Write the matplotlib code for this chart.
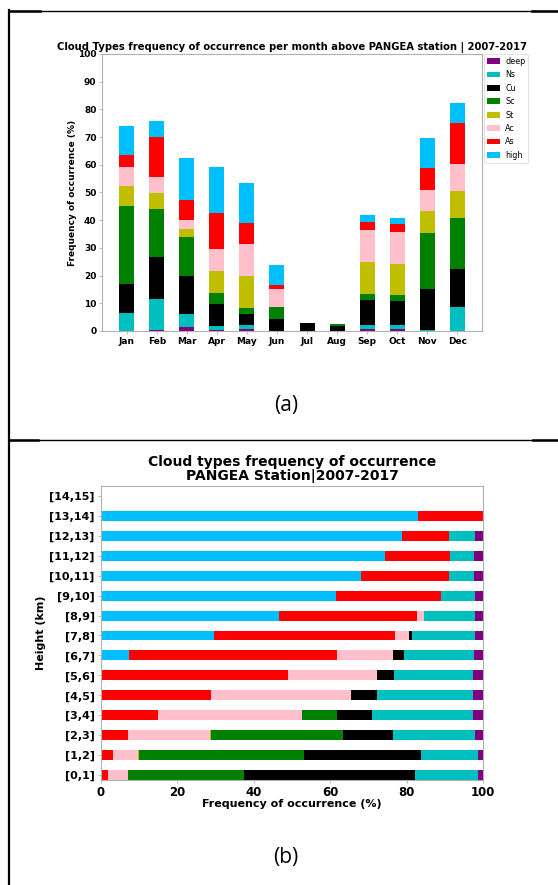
import matplotlib
matplotlib.use("Agg")
import matplotlib.pyplot as plt
from matplotlib.lines import Line2D
import numpy as np

# ---------------- data: panel (a) ----------------
months = ["Jan", "Feb", "Mar", "Apr", "May", "Jun", "Jul", "Aug", "Sep", "Oct", "Nov", "Dec"]
types_a = ["deep", "Ns", "Cu", "Sc", "St", "Ac", "As", "high"]
deep_m = [0.0, 0.3, 1.4, 0.2, 0.9, 0.0, 0.0, 0.0, 0.6, 0.6, 0.0, 0.0]
ns_m   = [6.4, 11.4, 4.7, 1.7, 1.1, 0.0, 0.0, 0.0, 1.6, 1.6, 0.3, 8.5]
cu_m   = [10.6, 15.1, 13.9, 7.7, 4.1, 4.2, 2.9, 1.8, 9.0, 8.8, 15.0, 13.8]
sc_m   = [28.2, 17.4, 13.9, 4.0, 2.1, 4.3, 0.0, 0.7, 2.2, 2.0, 20.2, 18.5]
st_m   = [7.1, 5.7, 3.0, 8.1, 11.7, 0.1, 0.0, 0.0, 11.5, 11.3, 7.7, 9.9]
ac_m   = [6.9, 5.8, 3.2, 7.8, 11.6, 6.4, 0.0, 0.0, 11.4, 11.3, 7.6, 9.7]
as_m   = [4.2, 14.2, 7.1, 13.2, 7.5, 1.6, 0.0, 0.0, 3.0, 2.9, 8.0, 14.7]
high_m = [10.7, 5.9, 15.1, 16.6, 14.4, 7.4, 0.0, 0.0, 2.5, 2.3, 10.8, 7.2]

# ---------------- data: panel (b) ----------------
heights = ["[0,1]", "[1,2]", "[2,3]", "[3,4]", "[4,5]", "[5,6]", "[6,7]", "[7,8]",
           "[8,9]", "[9,10]", "[10,11]", "[11,12]", "[12,13]", "[13,14]", "[14,15]"]
high_h = [0.0, 0.0, 0.0, 0.0, 0.0, 0.0, 7.2, 29.7, 46.6, 61.4, 68.1, 74.4, 78.9, 83.1, 0.0]
as_h   = [1.9, 3.1, 7.0, 15.0, 28.9, 48.9, 54.5, 47.2, 36.2, 27.5, 23.1, 17.0, 12.1, 16.9, 0.0]
ac_h   = [5.2, 6.7, 21.6, 37.6, 36.5, 23.4, 14.8, 3.6, 1.8, 0.0, 0.0, 0.0, 0.0, 0.0, 0.0]
st_h   = [0.0, 0.2, 0.3, 0.0, 0.0, 0.0, 0.0, 0.0, 0.0, 0.0, 0.0, 0.0, 0.0, 0.0, 0.0]
sc_h   = [30.3, 43.2, 34.5, 9.3, 0.0, 0.0, 0.0, 0.0, 0.0, 0.0, 0.0, 0.0, 0.0, 0.0, 0.0]
cu_h   = [44.9, 30.7, 13.1, 9.0, 6.8, 4.4, 2.8, 0.9, 0.0, 0.0, 0.0, 0.0, 0.0, 0.0, 0.0]
ns_h   = [16.3, 14.8, 21.5, 26.6, 25.2, 20.7, 18.3, 16.4, 13.3, 9.1, 6.5, 6.2, 6.9, 0.0, 0.0]
deep_h = [1.4, 1.3, 2.0, 2.5, 2.6, 2.6, 2.4, 2.2, 2.1, 2.0, 2.3, 2.4, 2.1, 0.0, 0.0]

colors = {"deep": "#800080", "Ns": "#00bfbf", "Cu": "#000000", "Sc": "#008000",
          "St": "#bfbf00", "Ac": "#ffc0cb", "As": "#ff0000", "high": "#00bfff"}

W, H = 558, 885
fig = plt.figure(figsize=(W / 100, H / 100), dpi=100)

def ax_rect(x0, y0, x1, y1):
    return [x0 / W, 1 - y1 / H, (x1 - x0) / W, (y1 - y0) / H]

spine_col = "#b0b0b0"

# ---------------- panel (a) ----------------
ax1 = fig.add_axes(ax_rect(102, 54, 482, 331))
series_a = [deep_m, ns_m, cu_m, sc_m, st_m, ac_m, as_m, high_m]
x = np.arange(len(months))
bottom = np.zeros(len(months))
for name, vals in zip(types_a, series_a):
    v = np.array(vals)
    ax1.bar(x, v, 0.5, bottom=bottom, color=colors[name], label=name)
    bottom += v
ax1.set_ylim(0, 100)
ax1.set_yticks(np.arange(0, 101, 10))
ax1.set_xticks(x)
ax1.set_xticklabels(months, fontsize=6.5, fontweight="bold")
for t in ax1.get_yticklabels():
    t.set_fontsize(6.5)
    t.set_fontweight("bold")
ax1.tick_params(length=2, width=0.6, color=spine_col, pad=2)
ax1.set_ylabel("Frequency of occurrence (%)", fontsize=6.5, fontweight="bold", labelpad=1)
ax1.set_title("Cloud Types frequency of occurrence per month above PANGEA station | 2007-2017",
              fontsize=7.2, fontweight="bold", pad=3)
for s in ax1.spines.values():
    s.set_color(spine_col)
    s.set_linewidth(0.8)
leg = ax1.legend(loc="upper left", bbox_to_anchor=(1.005, 1.0), fontsize=5.8,
                 frameon=True, borderaxespad=0, handlelength=1.7, labelspacing=0.55,
                 handletextpad=0.6, borderpad=0.35, fancybox=True)
leg.get_frame().set_linewidth(0.5)

# ---------------- panel (b) ----------------
ax2 = fig.add_axes(ax_rect(101, 486, 483, 780))
types_b = ["high", "As", "Ac", "St", "Sc", "Cu", "Ns", "deep"]
series_b = [high_h, as_h, ac_h, st_h, sc_h, cu_h, ns_h, deep_h]
y = np.arange(len(heights))
left = np.zeros(len(heights))
for name, vals in zip(types_b, series_b):
    v = np.array(vals)
    ax2.barh(y, v, 0.5, left=left, color=colors[name])
    left += v
ax2.set_xlim(0, 100)
ax2.set_ylim(-0.25, 14.5)
ax2.set_yticks(y)
ax2.set_yticklabels(heights, fontsize=8, fontweight="bold")
ax2.set_xticks([0, 20, 40, 60, 80, 100])
for t in ax2.get_xticklabels():
    t.set_fontsize(8.5)
    t.set_fontweight("bold")
ax2.tick_params(length=2.5, width=0.6, color=spine_col, pad=2)
ax2.set_xlabel("Frequency of occurrence (%)", fontsize=8, fontweight="bold", labelpad=0)
ax2.set_ylabel("Height (km)", fontsize=8, fontweight="bold", labelpad=2)
ax2.set_title("Cloud types frequency of occurrence\nPANGEA Station|2007-2017",
              fontsize=10, fontweight="bold", pad=4, linespacing=1.0)
for s in ax2.spines.values():
    s.set_color(spine_col)
    s.set_linewidth(0.8)

# ---------------- panel labels ----------------
fig.text(286 / W, 1 - 405 / H, "(a)", fontsize=15, ha="center", va="center",
         family="Open Sans")
fig.text(286 / W, 1 - 857 / H, "(b)", fontsize=15, ha="center", va="center",
         family="Open Sans")

# ---------------- table borders ----------------
def hline(y0, x0, x1, lw):
    fig.add_artist(Line2D([x0 / W, x1 / W], [1 - y0 / H, 1 - y0 / H], color="black",
                          lw=lw, transform=fig.transFigure))

def vline(x0, y0, y1, lw):
    fig.add_artist(Line2D([x0 / W, x0 / W], [1 - y0 / H, 1 - y1 / H], color="black",
                          lw=lw, transform=fig.transFigure))

vline(9, 10, 885, 1.6)
hline(10.5, 9, 558, 1.0)
hline(10.5, 9, 40, 1.8)
hline(10.5, 532, 558, 1.8)
hline(439.5, 9, 558, 1.0)
hline(439.5, 9, 38, 1.8)
hline(439.5, 533, 558, 1.8)

fig.savefig("out.png", dpi=100)
